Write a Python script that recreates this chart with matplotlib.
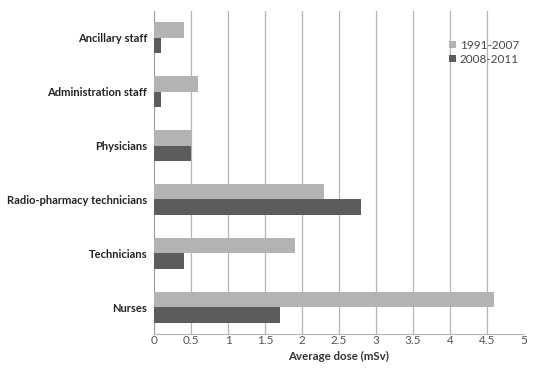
import matplotlib.pyplot as plt
import numpy as np

categories = ["Ancillary staff", "Administration staff", "Physicians",
              "Radio-pharmacy technicians", "Technicians", "Nurses"]
dose_1991_2007 = [0.4, 0.6, 0.5, 2.3, 1.9, 4.6]
dose_2008_2011 = [0.1, 0.1, 0.5, 2.8, 0.4, 1.7]
periods = ["1991-2007", "2008-2011"]

plt.rcParams['font.family'] = ['Lato', 'DejaVu Sans']

fig = plt.figure(figsize=(5.33, 3.68), dpi=100)
ax = fig.add_axes([0.289, 0.0924, 0.694, 0.878])

# top category first, like the usual horizontal bar layout
pos = np.arange(len(categories))[::-1]
h = 0.287
ax.barh(pos + h / 2, dose_1991_2007, height=h, color="#b3b3b3", label=periods[0], zorder=3)
ax.barh(pos - h / 2, dose_2008_2011, height=h, color="#5c5c5c", label=periods[1], zorder=3)

ax.set_xlim(0, 5)
ax.set_ylim(-0.5, len(categories) - 0.5)
ticks = np.arange(0, 5.01, 0.5)
ax.set_xticks(ticks)
ax.set_xticklabels(["0", "0.5", "1", "1.5", "2", "2.5", "3", "3.5", "4", "4.5", "5"],
                   fontsize=8.5, color="#555555")
for t in ticks[1:-1]:
    ax.axvline(t, color="#b5b5b5", lw=0.9, zorder=1)

ax.set_yticks(pos)
ax.set_yticklabels(categories, fontsize=8, fontweight="bold", color="#222222")
ax.tick_params(axis="y", length=0, pad=5)
ax.tick_params(axis="x", length=0, pad=1)

for s in ["top", "right"]:
    ax.spines[s].set_visible(False)
ax.spines["left"].set_color("#999999")
ax.spines["bottom"].set_color("#b5b5b5")

ax.set_xlabel("Average dose (mSv)", fontsize=8.3, fontweight="bold", color="#333333", labelpad=3)

leg = ax.legend(loc="upper left", bbox_to_anchor=(0.785, 0.925), frameon=False,
                fontsize=8.5, handlelength=0.55, handleheight=0.55, handletextpad=0.35,
                labelspacing=0.25, borderaxespad=0)
for txt in leg.get_texts():
    txt.set_color("#444444")

fig.savefig("out.png", dpi=100)
